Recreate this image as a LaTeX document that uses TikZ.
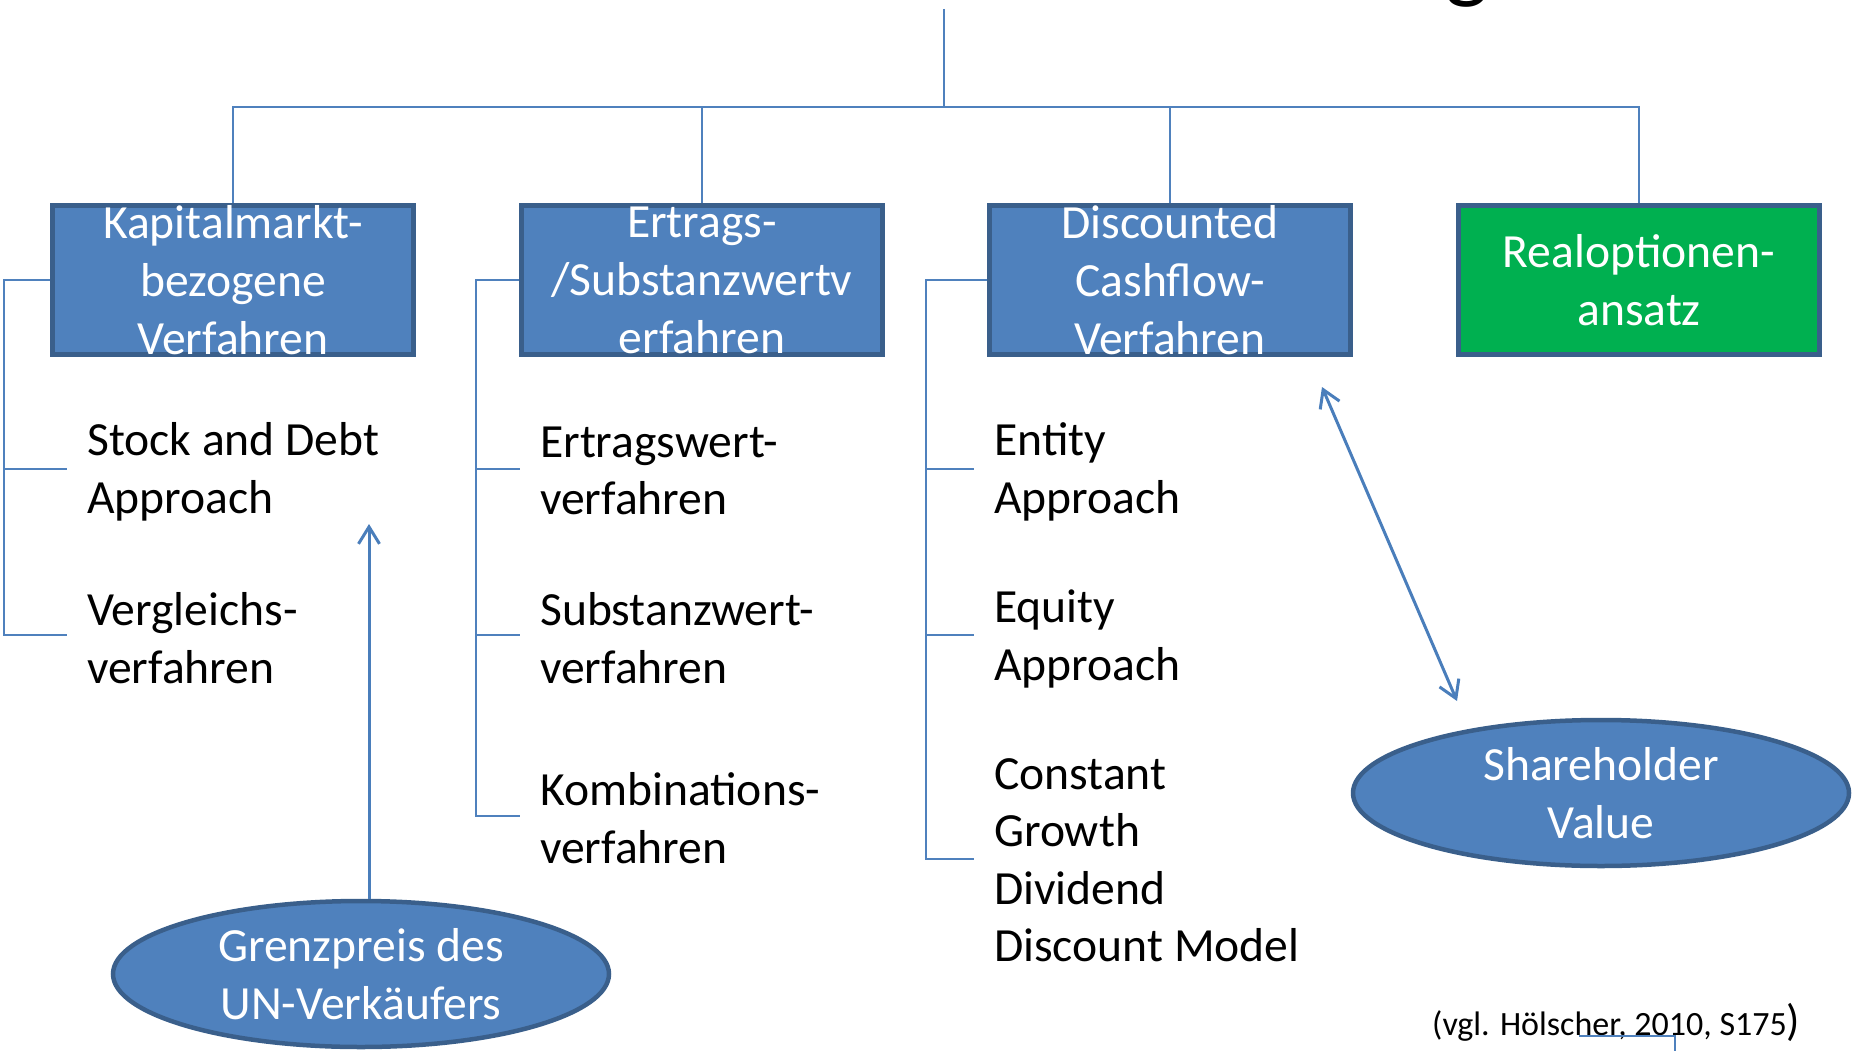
\documentclass[tikz,border=0pt]{standalone}
\usepackage{fontspec}
\setmainfont{Carlito}
\usetikzlibrary{shapes.geometric,arrows.meta}

\definecolor{boxfill}{HTML}{4F81BD}
\definecolor{boxedge}{HTML}{3A5F8B}
\definecolor{linkblue}{HTML}{4A7EBB}
\definecolor{greenfill}{HTML}{00B050}

\newcommand{\bigtext}{\fontsize{47.6}{58}\selectfont}

\begin{document}
\begin{tikzpicture}[x=1pt,y=-1pt,
  method/.style={draw=boxedge, line width=4.5pt, fill=boxfill, text=white,
    minimum width=361pt, minimum height=149pt, inner sep=0pt, align=center,
    font=\bigtext},
  greenmethod/.style={method, fill=greenfill},
  goal/.style={ellipse, draw=boxedge, line width=4.5pt, fill=boxfill, text=white,
    minimum width=496pt, minimum height=146pt, inner sep=0pt, align=center,
    font=\bigtext},
  item/.style={anchor=west, inner sep=0pt, align=left,
    font=\fontsize{47.6}{57.5}\selectfont},
  tree/.style={draw=boxfill, line width=2pt},
  relation/.style={draw=linkblue, line width=3pt,
    arrows={-Straight Barb[length=17pt,width=21pt,line width=3pt]}}]

\useasboundingbox (0,0) rectangle (1860,1051);
\clip (0,0) rectangle (1860,1051);

% descender of the heading above
\node[name=headg, anchor=south, inner sep=0pt, font=\fontsize{92}{92}\selectfont]
  at (1467,8) {g};

% method boxes
\node[method] (k1) at (233,280) {Kapitalmarkt-\\bezogene\\Verfahren};
\node[method] (k2) at (702,280) {Ertrags-\\/Substanzwertv\\erfahren};
\node[method] (k3) at (1170,280) {Discounted\\Cashflow-\\Verfahren};
\node[greenmethod] (k4) at (1639,280) {Realoptionen-\\ansatz};

% tree above the boxes
\coordinate (root) at (944,9);
\coordinate (bus) at (944,107);
\draw[tree] (root) -- (bus);
\draw[tree] (k1.north) -- (k1.north |- bus) -- (k4.north |- bus) -- (k4.north);
\draw[tree] (k2.north) -- (k2.north |- bus);
\draw[tree] (k3.north) -- (k3.north |- bus);

% sub-methods
\node[item] (a1) at (87,472) {Stock and Debt\\Approach};
\node[item] (a2) at (87,638) {Vergleichs-\\verfahren};

\node[item] (b1) at (540,471) {Ertragswert-\\verfahren};
\node[item] (b2) at (540,638) {Substanzwert-\\verfahren};
\node[item] (b3) at (540,818) {Kombinations-\\verfahren};

\node[item] (c1) at (994,472) {Entity\\Approach};
\node[item] (c2) at (994,639) {Equity\\Approach};
\node[item] (c3) at (994,860) {Constant\\Growth\\Dividend\\Discount Model};

% brackets from each box to its sub-methods
\coordinate (rail1) at (4,0);
\coordinate (rail2) at (476,0);
\coordinate (rail3) at (926,0);
\coordinate (t11) at (67,469);
\coordinate (t12) at (67,635);
\coordinate (t21) at (520,469);
\coordinate (t22) at (520,635);
\coordinate (t23) at (520,816);
\coordinate (t31) at (974,469);
\coordinate (t32) at (974,635);
\coordinate (t33) at (974,859);

\draw[tree] (k1.west) -- (k1.west -| rail1) -- (rail1 |- t12) -- (t12);
\draw[tree] (rail1 |- t11) -- (t11);

\draw[tree] (k2.west) -- (k2.west -| rail2) -- (rail2 |- t23) -- (t23);
\draw[tree] (rail2 |- t21) -- (t21);
\draw[tree] (rail2 |- t22) -- (t22);

\draw[tree] (k3.west) -- (k3.west -| rail3) -- (rail3 |- t33) -- (t33);
\draw[tree] (rail3 |- t31) -- (t31);
\draw[tree] (rail3 |- t32) -- (t32);

% valuation goals
\node[goal] (gp) at (361,974) {Grenzpreis des\\UN-Verkäufers};
\node[goal] (sv) at (1601,793) {Shareholder\\Value};

% relations
\coordinate (gptip) at (369,524);
\draw[relation] (gp.north -| gptip) -- (gptip);

\coordinate (dcfend) at (1322,387);
\coordinate (svend) at (1457,701);
\draw[relation, arrows={Straight Barb[length=17pt,width=21pt,line width=3pt]-Straight Barb[length=17pt,width=21pt,line width=3pt]}]
  (dcfend) -- (svend);

% source
\node[name=src, anchor=base west, inner sep=0pt, font=\fontsize{34}{34}\selectfont]
  at (1432,1035) {(vgl. Hölscher, 2010, S175{\fontsize{44}{44}\selectfont)}};

\coordinate (s1) at (1579,1036);
\coordinate (s2) at (1675,1036);
\coordinate (s3) at (1675,1051);
\draw[tree] (s1) -- (s2) -- (s3);

\end{tikzpicture}
\end{document}
